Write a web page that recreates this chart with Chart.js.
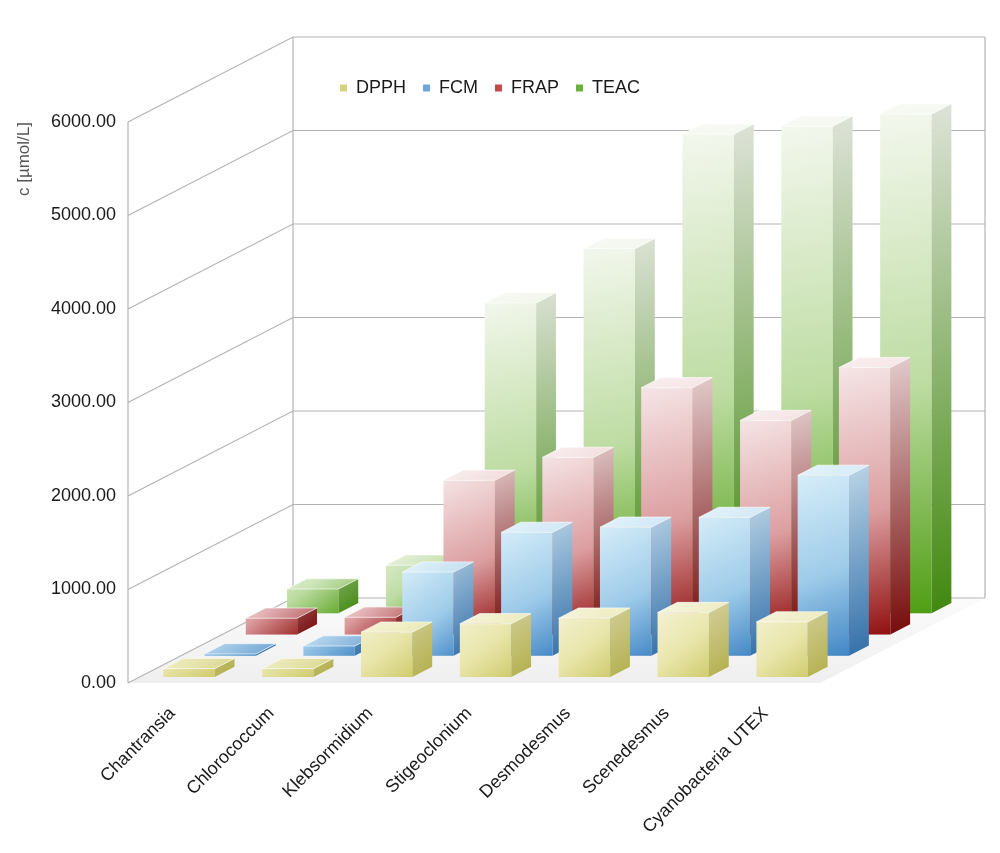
<!DOCTYPE html>
<html>
<head>
<meta charset="utf-8">
<script src="https://cdn.jsdelivr.net/npm/chart.js@4.4.0/dist/chart.umd.min.js"></script>
<style>
  html, body { margin: 0; padding: 0; background: #fff; }
  #wrap { width: 1000px; height: 853px; }
</style>
</head>
<body>
<div id="wrap"><canvas id="chart" width="1000" height="853"></canvas></div>
<script>
const categories = ['Chantransia', 'Chlorococcum', 'Klebsormidium', 'Stigeoclonium', 'Desmodesmus', 'Scenedesmus', 'Cyanobacteria UTEX'];
const seriesNames = ['DPPH', 'FCM', 'FRAP', 'TEAC'];
const dpph = [90, 90, 480, 570, 630, 690, 590];
const fcm = [20, 105, 895, 1320, 1375, 1480, 1930];
const frap = [175, 185, 1650, 1895, 2640, 2290, 2855];
const teac = [260, 515, 3320, 3900, 5125, 5210, 5340];
const yTicks = [0, 1000, 2000, 3000, 4000, 5000, 6000];

const FONT = 'Liberation Sans, Arial, sans-serif';

// face colours per series
const looks = [
  { legend: '#d6d47e', top: '#f8f6e2', mid: '#e9e6ac', base: '#c8c45c', sideTop: '#e8e6cf', sideBase: '#b2ae4a' },
  { legend: '#6ea6d8', top: '#dbf0fa', mid: '#9ecbe9', base: '#3a80c2', sideTop: '#c9dfec', sideBase: '#316ea8' },
  { legend: '#c24a4a', top: '#f7eaeb', mid: '#dc9ea0', base: '#8e0b0b', sideTop: '#e8d6d7', sideBase: '#760909' },
  { legend: '#6cb03c', top: '#f5f8f0', mid: '#bddca2', base: '#4e9d12', sideTop: '#e0e4db', sideBase: '#41880e' }
];

// oblique depth of the box, in pixels
const DEPTH_X = 165;
const DEPTH_Y = -85;
const SLOT = 0.25;
const BAR_INSET = 0.07;
const BAR_DEPTH = 0.12;
const BAR_WIDTH = 0.52;

function drawBar(ctx, x0, x1, yt, yb, sx, sy, c) {
  const h = yb - yt;
  // shading runs from the upper left to the lower right of the block;
  // short blocks only get the darker end of it
  const span = Math.max(h - sy, 90);
  const gx0 = x0, gy0 = yb - span, gx1 = x1 + sx, gy1 = yb;
  const g = ctx.createLinearGradient(gx0, gy0, gx1, gy1);
  g.addColorStop(0, c.top);
  g.addColorStop(0.55, c.mid);
  g.addColorStop(1, c.base);
  ctx.fillStyle = g;
  ctx.fillRect(x0, yt, x1 - x0, h);

  const gs = ctx.createLinearGradient(gx0, gy0, gx1, gy1);
  gs.addColorStop(0, c.sideTop);
  gs.addColorStop(1, c.sideBase);
  ctx.fillStyle = gs;
  ctx.beginPath();
  ctx.moveTo(x1, yt);
  ctx.lineTo(x1 + sx, yt + sy);
  ctx.lineTo(x1 + sx, yb + sy);
  ctx.lineTo(x1, yb);
  ctx.closePath();
  ctx.fill();

  ctx.beginPath();
  ctx.moveTo(x0, yt);
  ctx.lineTo(x1, yt);
  ctx.lineTo(x1 + sx, yt + sy);
  ctx.lineTo(x0 + sx, yt + sy);
  ctx.closePath();
  ctx.fillStyle = g;
  ctx.fill();
  ctx.fillStyle = 'rgba(255,255,255,0.25)';
  ctx.fill();
  ctx.strokeStyle = 'rgba(255,255,255,0.6)';
  ctx.lineWidth = 1;
  ctx.stroke();
}

const box3d = {
  id: 'box3d',
  afterLayout(chart) {
    // the legend sits a little right of the plot centre
    chart.legend.left += 16;
    chart.legend.right += 16;
  },
  beforeDatasetsDraw(chart) {
    const { ctx, chartArea: a, scales: { x, y } } = chart;
    const y0 = y.getPixelForValue(0);
    const yMax = y.getPixelForValue(yTicks[yTicks.length - 1]);
    ctx.save();

    // floor
    const fg = ctx.createLinearGradient(0, y0 + DEPTH_Y, 0, y0);
    fg.addColorStop(0, '#fbfbfb');
    fg.addColorStop(1, '#efefef');
    ctx.fillStyle = fg;
    ctx.beginPath();
    ctx.moveTo(a.left, y0);
    ctx.lineTo(a.right, y0);
    ctx.lineTo(a.right + DEPTH_X, y0 + DEPTH_Y);
    ctx.lineTo(a.left + DEPTH_X, y0 + DEPTH_Y);
    ctx.closePath();
    ctx.fill();

    // walls
    ctx.strokeStyle = '#b3b3b3';
    ctx.lineWidth = 1.2;
    ctx.beginPath();
    yTicks.forEach(t => {
      const py = y.getPixelForValue(t);
      ctx.moveTo(a.left, py);
      ctx.lineTo(a.left + DEPTH_X, py + DEPTH_Y);
      ctx.lineTo(a.right + DEPTH_X, py + DEPTH_Y);
    });
    ctx.moveTo(a.left, yMax);
    ctx.lineTo(a.left, y0);
    ctx.moveTo(a.left + DEPTH_X, yMax + DEPTH_Y);
    ctx.lineTo(a.left + DEPTH_X, y0 + DEPTH_Y);
    ctx.moveTo(a.right + DEPTH_X, yMax + DEPTH_Y);
    ctx.lineTo(a.right + DEPTH_X, y0 + DEPTH_Y);
    ctx.stroke();

    // bars, back row first
    const w = (x.getPixelForValue(1) - x.getPixelForValue(0)) * BAR_WIDTH;
    const sx = DEPTH_X * BAR_DEPTH, sy = DEPTH_Y * BAR_DEPTH;
    for (let s = chart.data.datasets.length - 1; s >= 0; s--) {
      const ds = chart.data.datasets[s];
      const f = s * SLOT + BAR_INSET;
      const ox = DEPTH_X * f, oy = DEPTH_Y * f;
      ds.data.forEach((v, i) => {
        const x0 = x.getPixelForValue(i) - w / 2 + ox;
        drawBar(ctx, x0, x0 + w, y.getPixelForValue(v) + oy, y0 + oy, sx, sy, looks[s]);
      });
    }
    ctx.restore();
    return false;
  }
};

const seriesData = [dpph, fcm, frap, teac];

new Chart(document.getElementById('chart'), {
  type: 'bar',
  data: {
    labels: categories,
    datasets: seriesNames.map((name, s) => ({
      label: name,
      data: seriesData[s],
      backgroundColor: looks[s].legend,
      borderWidth: 0
    }))
  },
  options: {
    responsive: false,
    animation: false,
    layout: { padding: { left: 10, right: 180, top: 62, bottom: 0 } },
    scales: {
      x: {
        grid: { display: false, drawTicks: false },
        border: { display: false },
        ticks: { autoSkip: false, minRotation: 45, maxRotation: 45, padding: 20, labelOffset: -5, color: '#1a1a1a', font: { family: FONT, size: 18 } },
        afterFit: (scale) => { scale.height = 170; }
      },
      y: {
        min: 0,
        max: 6000,
        afterBuildTicks: (scale) => { scale.ticks = yTicks.map(v => ({ value: v })); },
        grid: { display: false, drawTicks: false },
        border: { display: false },
        ticks: { padding: 12, color: '#1a1a1a', font: { family: FONT, size: 18 }, callback: v => Number(v).toFixed(2) },
        title: { display: true, text: 'c [µmol/L]', align: 'end', color: '#555', font: { family: FONT, size: 17 }, padding: { top: 4, bottom: 0 } },
        afterFit: (scale) => { scale.width = 118; }
      }
    },
    plugins: {
      legend: {
        position: 'top',
        fullSize: false,
        labels: { boxWidth: 7, boxHeight: 7, padding: 17, color: '#1a1a1a', font: { family: FONT, size: 18 } }
      },
      title: { display: true, text: '', position: 'top', fullSize: false, weight: 500, padding: 0, font: { size: 10, lineHeight: 1.5 } },
      tooltip: { enabled: false }
    }
  },
  plugins: [box3d]
});
</script>
</body>
</html>
